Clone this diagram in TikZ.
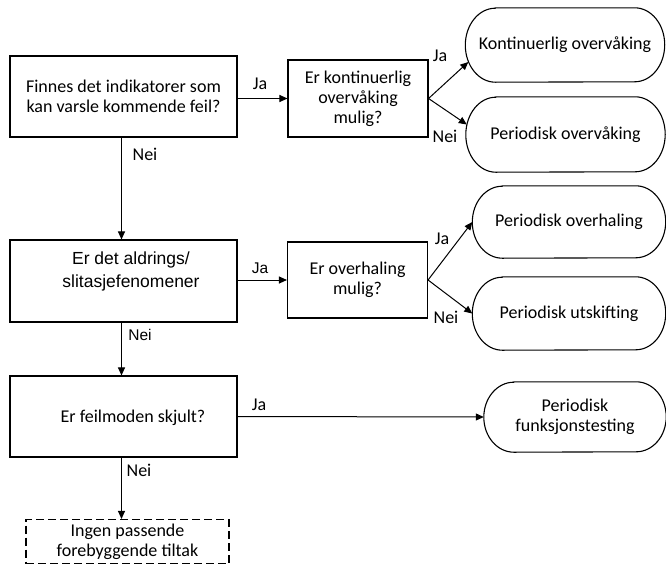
\documentclass[tikz,border=0pt]{standalone}
\usepackage{fontspec}
\setmainfont{Carlito}
\newfontfamily\arialfont{Liberation Sans}
\usetikzlibrary{calc,arrows.meta}
% outline of a terminal node: straight top and bottom, elliptic ends
\newcommand\stadium[3]{%
  \draw[line width=1.1pt]
    ([xshift=#2]#1.north west) -- ([xshift=-#2]#1.north east)
    arc[start angle=90,end angle=-90,x radius=#2,y radius=#3]
    -- ([xshift=#2]#1.south west)
    arc[start angle=270,end angle=90,x radius=#2,y radius=#3] -- cycle;}
\begin{document}
\begin{tikzpicture}[x=1pt,y=-1pt,
  every node/.style={font=\fontsize{18}{20}\selectfont},
  qbox/.style={draw,line width=1.1pt,align=center,inner sep=0pt},
  endbox/.style={align=center,inner sep=0pt},
  nonebox/.style={draw,line width=1.1pt,dash pattern=on 8pt off 4pt,align=center,inner sep=0pt},
  arial/.style={font=\arialfont\fontsize{17.5}{23}\selectfont,align=center,inner sep=0pt},
  arr/.style={line width=1pt,-{Triangle[length=8pt,width=7pt]}},
  lbl/.style={inner sep=0pt}]
\useasboundingbox (0,0) rectangle (666,565);

% question boxes
\node[qbox,minimum width=227pt,minimum height=81pt] (b1) at (123.5,96.5)
  {Finnes det indikatorer som\\kan varsle kommende feil?};
\node[qbox,minimum width=140pt,minimum height=77pt] (b2) at (358,98.5)
  {Er kontinuerlig\\overvåking\\mulig?};
\node[qbox,minimum width=227pt,minimum height=82pt] (b3) at (123.5,281) {};
\node[arial] (t3) at (131,271.5) {Er det aldrings/\\slitasjefenomener};
\node[qbox,minimum width=140pt,minimum height=76pt] (b4) at (357.5,280)
  {Er overhaling\\mulig?};
\node[qbox,minimum width=227pt,minimum height=81pt] (b5) at (123.5,416.5) {};
\node[lbl] (t5) at (133,418) {Er feilmoden skjult?};

% outcomes
\node[endbox,minimum width=199pt,minimum height=74pt] (o1) at (565,45) {Kontinuerlig overvåking};
\node[endbox,minimum width=199pt,minimum height=75pt] (o2) at (565.5,134.5) {Periodisk overvåking};
\node[endbox,minimum width=193pt,minimum height=72pt] (o3) at (569,222) {Periodisk overhaling};
\node[endbox,minimum width=193pt,minimum height=73pt] (o4) at (569,313.5) {Periodisk utskifting};
\node[endbox,minimum width=182pt,minimum height=70pt] (o5) at (575,417) {Periodisk\\funksjonstesting};
\stadium{o1}{30pt}{37pt}
\stadium{o2}{30pt}{37.5pt}
\stadium{o3}{30pt}{36pt}
\stadium{o4}{30pt}{36.5pt}
\stadium{o5}{30pt}{35pt}
\node[nonebox,minimum width=203pt,minimum height=44pt] (b6) at (127.5,541.5)
  {Ingen passende\\forebyggende tiltak};

% connectors
\coordinate (vx) at (121.5,0);
\draw[arr] (b1.east |- b2.west) -- (b2.west);
\draw[arr] (b2.east) -- ($(o1.west)+(3,17)$);
\draw[arr] (b2.east) -- ($(o2.west)+(1,-10)$);
\draw[arr] (b1.south -| vx) -- (b3.north -| vx);
\draw[arr] (b3.east |- b4.west) -- (b4.west);
\draw[arr] (b4.east) -- (o3.west);
\draw[arr] (b4.east) -- (o4.west);
\draw[arr] (b3.south -| vx) -- (b5.north -| vx);
\draw[arr] (b5.east) -- (o5.west);
\draw[arr] (b5.south -| vx) -- (b6.north -| vx);

% branch labels
\node[lbl] (l1) at (260,84) {Ja};
\node[lbl] (l2) at (145,154) {Nei};
\node[lbl] (l3) at (440,56) {Ja};
\node[lbl] (l4) at (445,136) {Nei};
\node[arial,font=\arialfont\fontsize{15.5}{17}\selectfont] (l5) at (260,268) {Ja};
\node[arial,font=\arialfont\fontsize{15.5}{17}\selectfont] (l6) at (140,335) {Nei};
\node[lbl] (l7) at (442,239) {Ja};
\node[lbl] (l8) at (446,317) {Nei};
\node[lbl] (l9) at (259,405) {Ja};
\node[lbl] (l10) at (139,470) {Nei};
\end{tikzpicture}
\end{document}
